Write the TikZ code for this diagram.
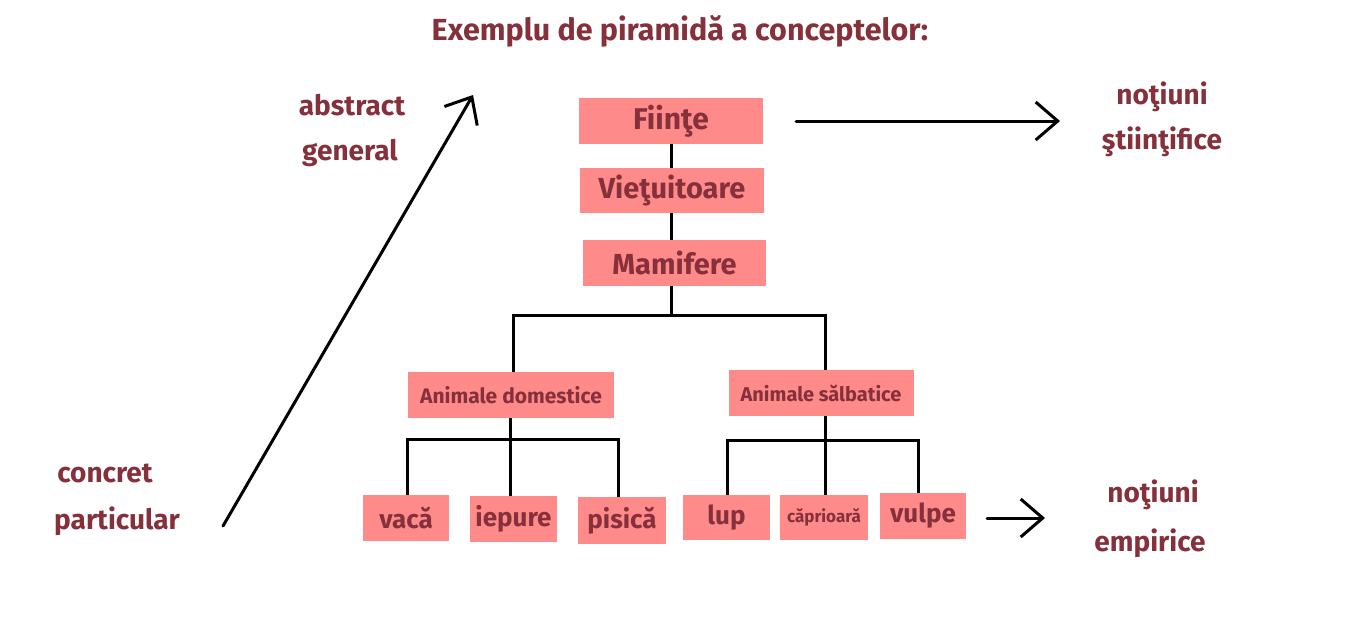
\documentclass[tikz,border=0pt]{standalone}
\usepackage{fontspec}
\setmainfont{Fira Sans}
\usetikzlibrary{arrows.meta}
\definecolor{txt}{HTML}{85303B}
\definecolor{boxfill}{HTML}{FF8A8A}
\pgfdeclarelayer{bg}
\pgfsetlayers{bg,main}
\tikzset{
  box/.style={fill=boxfill, draw=none, inner sep=0pt, text=txt, anchor=center},
  lbl/.style={text=txt, font=\fontsize{28}{32}\selectfont\bfseries, align=center, inner sep=0pt},
  conn/.style={line width=3pt, line cap=rect},
  arr/.style={line width=3pt, line cap=round, -{Straight Barb[length=22pt, width=38pt, line width=3pt]}}
}
\begin{document}
\begin{tikzpicture}[x=1pt, y=-1pt]
\useasboundingbox (0,0) rectangle (1350,629);
% title
\node[text=txt, font=\fontsize{30.5}{34}\selectfont\bfseries, inner sep=0pt] (title) at (680,31) {Exemplu de piramidă a conceptelor:};
% main boxes
\node[box, minimum width=184pt, minimum height=46pt, font=\fontsize{30}{32}\selectfont\bfseries] (f) at (671,121) {Fiinţe};
\node[box, minimum width=184pt, minimum height=45pt, font=\fontsize{29}{32}\selectfont\bfseries] (v) at (672,190.5) {Vieţuitoare};
\node[box, minimum width=183pt, minimum height=46pt, font=\fontsize{29}{32}\selectfont\bfseries] (m) at (674.5,263) {Mamifere};
\node[box, minimum width=206pt, minimum height=46pt, font=\fontsize{21}{26}\selectfont\bfseries] (ad) at (511,395) {Animale domestice};
\node[box, minimum width=185pt, minimum height=46pt, font=\fontsize{20}{26}\selectfont\bfseries] (as) at (821,393) {Animale sălbatice};
% leaves
\node[box, minimum width=86pt, minimum height=46pt, font=\fontsize{26}{30}\selectfont\bfseries] (vaca) at (406,518) {vacă};
\node[box, minimum width=87pt, minimum height=46pt, font=\fontsize{26}{30}\selectfont\bfseries] (iepure) at (513.5,519) {iepure};
\node[box, minimum width=88pt, minimum height=47pt, font=\fontsize{26}{30}\selectfont\bfseries] (pisica) at (622,520.5) {pisică};
\node[box, minimum width=87pt, minimum height=45pt, font=\fontsize{26}{30}\selectfont\bfseries] (lup) at (726.5,517.5) {lup};
\node[box, minimum width=88pt, minimum height=45pt, font=\fontsize{17}{20}\selectfont\bfseries] (capr) at (824,517.5) {căprioară};
\node[box, minimum width=86pt, minimum height=46pt, font=\fontsize{26}{30}\selectfont\bfseries] (vulpe) at (923,516) {vulpe};
% junctions
\coordinate (j1) at (671,315);
\coordinate (j2) at (510,439);
\coordinate (j3) at (825,440);
% connectors
\begin{pgfonlayer}{bg}
\fill[white] (0,0) rectangle (1350,629);
\draw[conn, line cap=butt] (f.south -| j1) -- (v.north -| j1);
\draw[conn, line cap=butt] (v.south -| j1) -- (m.north -| j1);
\draw[conn, line cap=butt] (m.south -| j1) -- (j1);
\draw[conn] (ad.north -| 513,0) |- (j1) -| (as.north -| j3);
\draw[conn, line cap=butt] (ad.south -| j2) -- (j2);
\draw[conn] (vaca.north -| 407,0) |- (j2) -| (pisica.north -| 618,0);
\draw[conn, line cap=butt] (j2) -- (iepure.north -| j2);
\draw[conn, line cap=butt] (as.south -| j3) -- (j3);
\draw[conn] (lup.north -| 727,0) |- (j3) -| (vulpe.north -| 918,0);
\draw[conn, line cap=butt] (j3) -- (capr.north -| j3);
\end{pgfonlayer}
% side labels
\node[lbl] (abs) at (352,105) {abstract};
\node[lbl] (gen) at (350,153) {general};
\node[lbl] (conc) at (105,473) {concret};
\node[lbl] (part) at (117,521) {particular};
\node[lbl] (ns1) at (1162,97) {noţiuni};
\node[lbl] (ns2) at (1162,142) {ştiinţifice};
\node[lbl] (ne1) at (1153,495) {noţiuni};
\node[lbl] (ne2) at (1150,543) {empirice};
% arrows
\coordinate (d0) at (223,526);
\coordinate (d1) at (473,95);
\draw[arr] (d0) -- (d1);
\coordinate (a0) at (796,121);
\coordinate (a1) at (1060,121);
\draw[arr] (a0) -- (a1);
\coordinate (b0) at (987,518);
\coordinate (b1) at (1045,518);
\draw[arr] (b0) -- (b1);
\end{tikzpicture}
\end{document}
